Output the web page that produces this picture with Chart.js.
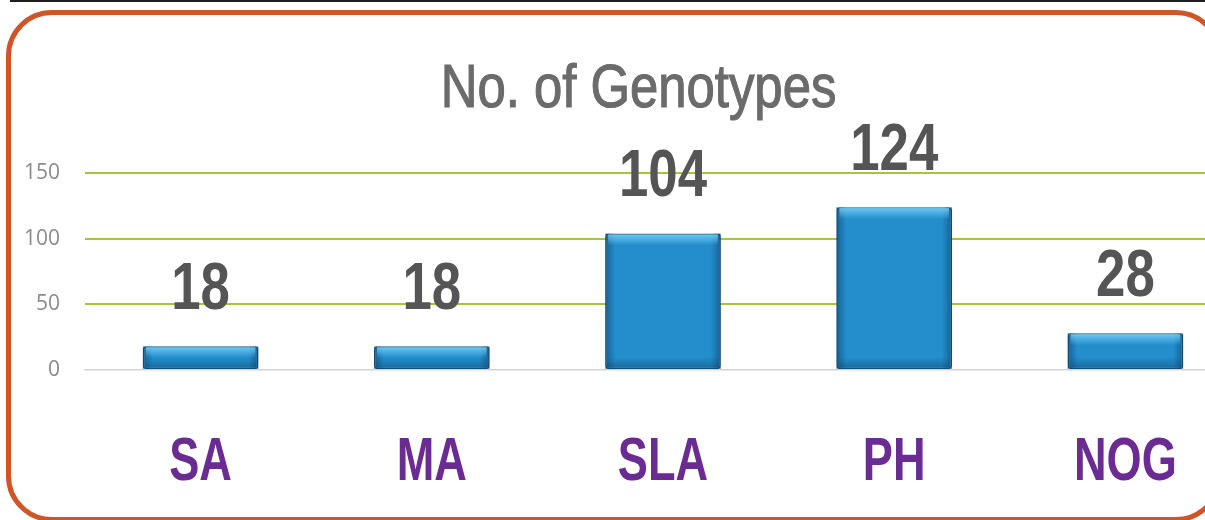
<!DOCTYPE html>
<html>
<head>
<meta charset="utf-8">
<script src="https://cdn.jsdelivr.net/npm/chart.js@4/dist/chart.umd.min.js"></script>
<style>
  html, body { margin: 0; padding: 0; background: #fff; overflow: hidden; }
  body { width: 1205px; height: 520px; position: relative; }
  #topLine { position: absolute; left: 10px; top: 0; width: 1195px; height: 2px; background: #1e1e1e; }
  #frame { position: absolute; left: 6px; top: 10px; width: 1206px; height: 502px;
           border: 5px solid #cf5428; border-radius: 46px; }
  #wrap { position: absolute; left: 0; top: 0; width: 1241px; height: 520px; }
</style>
</head>
<body>
<div id="topLine"></div>
<div id="frame"></div>
<div id="wrap"><canvas id="chartCanvasGenotypes"></canvas></div>
<script>
const categories = ["SA", "MA", "SLA", "PH", "NOG"];
const genotypeCounts = [18, 18, 104, 124, 28];
const yTicks = [0, 50, 100, 150];
const chartTitle = "No. of Genotypes";

const SANS = "'Liberation Sans', Arial, sans-serif";

// condensed text helper (no narrow font installed)
function drawCondensed(ctx, text, x, y, font, color, squeeze, stroke) {
  ctx.save();
  ctx.translate(x, y);
  ctx.scale(squeeze, 1);
  ctx.font = font;
  ctx.fillStyle = color;
  ctx.textAlign = "center";
  ctx.textBaseline = "alphabetic";
  ctx.fillText(text, 0, 0);
  if (stroke) {
    ctx.strokeStyle = color;
    ctx.lineWidth = stroke;
    ctx.strokeText(text, 0, 0);
  }
  ctx.restore();
}

// glossy bars, value labels, category labels and title
const barDecor = {
  id: "barDecor",
  afterDatasetsDraw(chart) {
    const { ctx } = chart;
    const meta = chart.getDatasetMeta(0);
    meta.data.forEach((bar, i) => {
      const { x, y, base, width } = bar.getProps(["x", "y", "base", "width"], true);
      const l = x - width / 2, r = x + width / 2, h = base - y;
      ctx.save();
      let g = ctx.createLinearGradient(l, 0, l + 10, 0);
      g.addColorStop(0, "rgba(10,60,100,0.55)");
      g.addColorStop(1, "rgba(10,60,100,0)");
      ctx.fillStyle = g; ctx.fillRect(l, y, 10, h);
      g = ctx.createLinearGradient(r, 0, r - 10, 0);
      g.addColorStop(0, "rgba(10,60,100,0.55)");
      g.addColorStop(1, "rgba(10,60,100,0)");
      ctx.fillStyle = g; ctx.fillRect(r - 10, y, 10, h);
      const hh = Math.min(12, h / 2);
      g = ctx.createLinearGradient(0, y, 0, y + hh);
      g.addColorStop(0, "rgba(120,210,250,0.9)");
      g.addColorStop(1, "rgba(120,210,250,0)");
      ctx.fillStyle = g; ctx.fillRect(l + 3, y + 1, width - 6, hh);
      g = ctx.createLinearGradient(0, base, 0, base - hh);
      g.addColorStop(0, "rgba(10,60,100,0.45)");
      g.addColorStop(1, "rgba(10,60,100,0)");
      ctx.fillStyle = g; ctx.fillRect(l + 2, base - hh, width - 4, hh);
      ctx.restore();

      drawCondensed(ctx, String(genotypeCounts[i]), x, y - 37, "bold 66px " + SANS, "#555555", 0.8);
    });

    const xs = chart.scales.x;
    categories.forEach((c, i) => {
      drawCondensed(ctx, c, xs.getPixelForTick(i), xs.top + 110, "bold 61px " + SANS, "#6a2b93", 0.74);
    });
  },
  afterDraw(chart) {
    const { ctx, chartArea } = chart;
    drawCondensed(ctx, chartTitle, 638.5, chartArea.top - 66, "62px " + SANS, "#6b6b6b", 0.82, 1.2);
  }
};

const ctx = document.getElementById("chartCanvasGenotypes").getContext("2d");
new Chart(ctx, {
  type: "bar",
  data: {
    labels: categories,
    datasets: [{
      label: chartTitle,
      data: genotypeCounts,
      backgroundColor: "#238ecb",
      borderColor: "#1b5c87",
      borderWidth: 1.5,
      borderRadius: 3,
      borderSkipped: false,
      categoryPercentage: 1,
      barPercentage: 0.5,
    }],
  },
  options: {
    responsive: true,
    maintainAspectRatio: false,
    animation: false,
    layout: { padding: { left: 0, right: 0, top: 173, bottom: 20 } },
    plugins: {
      legend: { display: false },
      tooltip: { enabled: false },
      title: { display: false },
    },
    scales: {
      x: {
        afterFit: (s) => { s.height = 130; },
        grid: { display: false, drawTicks: false },
        border: { display: true, color: "#d4d4d4", width: 1.5 },
        ticks: { display: false },
      },
      y: {
        min: 0,
        max: 150,
        afterFit: (s) => { s.width = 85; },
        afterBuildTicks: (s) => { s.ticks = yTicks.map(v => ({ value: v })); },
        border: { display: false },
        grid: {
          drawTicks: false,
          lineWidth: 2,
          color: (c) => (c.tick && c.tick.value === 0 ? "rgba(0,0,0,0)" : "#a3c73c"),
        },
        ticks: {
          color: "#8a8a8a",
          padding: 25,
          font: { family: "'Open Sans', sans-serif", size: 21 },
        },
      },
    },
  },
  plugins: [barDecor],
});
</script>
</body>
</html>
